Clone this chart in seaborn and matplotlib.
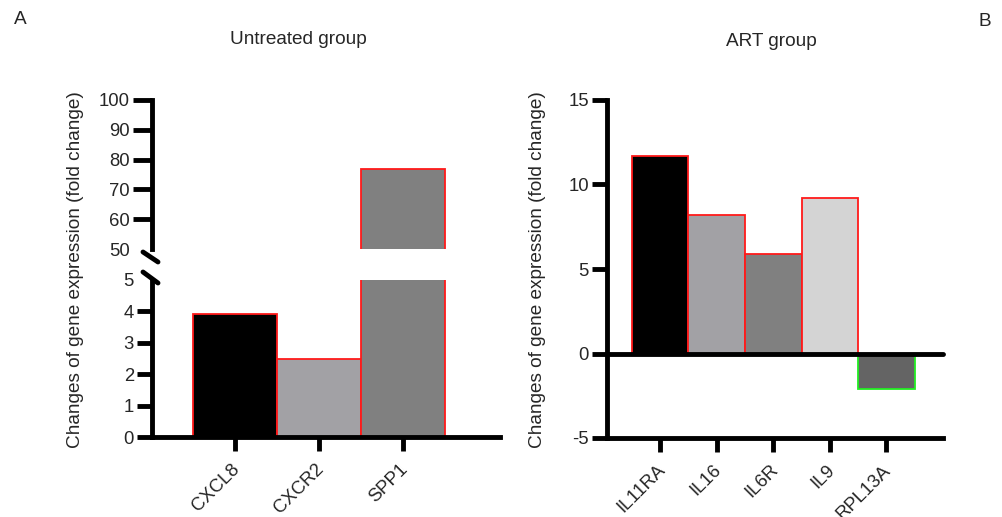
import matplotlib
matplotlib.use("Agg")
import matplotlib.pyplot as plt
import matplotlib.transforms as mtransforms
import seaborn as sns
import pandas as pd

sns.set_style("white")
plt.rcParams['font.family'] = ['Liberation Sans', 'DejaVu Sans']
plt.rcParams['axes.unicode_minus'] = False

# ---- data ----
untreated_genes = ["CXCL8", "CXCR2", "SPP1"]
untreated_vals = [3.92, 2.48, 77.0]
untreated_colors = ["#000000", "#a2a1a5", "#808080"]

art_genes = ["IL11RA", "IL16", "IL6R", "IL9", "RPL13A"]
art_vals = [11.7, 8.2, 5.9, 9.2, -2.1]
art_colors = ["#000000", "#a2a1a5", "#808080", "#d4d4d4", "#646464"]
art_edges = ["#ff1a1a", "#ff1a1a", "#ff1a1a", "#ff1a1a", "#22ee22"]

ylabel = "Changes of gene expression (fold change)"
W, H = 1003, 517
fig = plt.figure(figsize=(W / 100, H / 100), dpi=100)

def fx(px):
    return px / W

def fy(py):
    return 1 - py / H

SP = 3.5   # spine width
FS = 13.7  # label font
TFS = 13.3  # tick font
EW = 1.3   # bar edge width

def style(ax, ylen=11):
    for s in ax.spines.values():
        s.set_linewidth(SP)
        s.set_color("black")
    ax.tick_params(axis="y", direction="out", length=ylen, width=SP, color="black",
                   labelsize=TFS, pad=2, left=True)
    ax.tick_params(axis="x", direction="out", length=10, width=SP, color="black",
                   labelsize=TFS, pad=7, bottom=True)

def rot_labels(ax, labels):
    ax.set_xticks(range(len(labels)))
    ax.set_xticklabels(labels, rotation=45, ha="right", va="top", rotation_mode="anchor")
    off = mtransforms.ScaledTranslation(-4 / 100, 0, fig.dpi_scale_trans)
    for t in ax.get_xticklabels():
        t.set_transform(t.get_transform() + off)

# ---- left panel (broken axis) ----
L, R = 152, 500
ax_top = fig.add_axes([fx(L), fy(249), fx(R - L), (249 - 100) / H])
ax_bot = fig.add_axes([fx(L), fy(437), fx(R - L), (437 - 280) / H])

df_u = pd.DataFrame({"gene": untreated_genes, "val": untreated_vals})
for ax in (ax_top, ax_bot):
    sns.barplot(data=df_u, x="gene", y="val", hue="gene", palette=untreated_colors,
                width=1.0, edgecolor="#ff1a1a", linewidth=EW, legend=False, ax=ax)
    ax.set_xlim(-0.99, 3.15)
    ax.set_xlabel("")
    ax.set_ylabel("")
    for s in ("top", "right"):
        ax.spines[s].set_visible(False)

style(ax_top, ylen=14)
style(ax_bot, ylen=11)

ax_top.set_ylim(50, 100)
ax_top.set_yticks([50, 60, 70, 80, 90, 100])
ax_top.spines["bottom"].set_visible(False)
ax_top.tick_params(axis="x", bottom=False, labelbottom=False)
ax_top.yaxis.get_major_ticks()[0].tick1line.set_visible(False)

ax_bot.set_ylim(0, 5)
ax_bot.set_yticks([0, 1, 2, 3, 4, 5])
ax_bot.yaxis.get_major_ticks()[-1].tick1line.set_visible(False)
rot_labels(ax_bot, untreated_genes)

# break marks
fig.add_artist(plt.Line2D([fx(143), fx(158)], [fy(252), fy(262)], color="black", lw=SP))
fig.add_artist(plt.Line2D([fx(143), fx(158)], [fy(272), fy(283)], color="black", lw=SP))

# ---- right panel ----
axr = fig.add_axes([fx(607), fy(438), fx(943 - 607), (438 - 100) / H])
df_a = pd.DataFrame({"gene": art_genes, "val": art_vals})
sns.barplot(data=df_a, x="gene", y="val", hue="gene", palette=art_colors,
            width=1.0, edgecolor="#ff1a1a", linewidth=EW, legend=False, ax=axr)
for p, ec in zip(axr.patches, art_edges):
    p.set_edgecolor(ec)
axr.set_xlim(-0.94, 5.0)
axr.set_ylim(-5, 15)
axr.set_yticks([-5, 0, 5, 10, 15])
axr.set_xlabel("")
axr.set_ylabel("")
style(axr, ylen=11)
for s in ("top", "right"):
    axr.spines[s].set_visible(False)
axr.axhline(0, color="black", lw=SP, zorder=5, clip_on=False)
rot_labels(axr, art_genes)

# ---- texts ----
fig.text(fx(76), fy(270), ylabel, rotation=90, ha="center", va="center", fontsize=FS)
fig.text(fx(538), fy(270), ylabel, rotation=90, ha="center", va="center", fontsize=FS)
fig.text(fx(298), fy(40), "Untreated group", ha="center", va="center", fontsize=FS)
fig.text(fx(771), fy(41), "ART group", ha="center", va="center", fontsize=FS)
fig.text(fx(20), fy(20), "A", ha="center", va="center", fontsize=FS)
fig.text(fx(985), fy(22), "B", ha="center", va="center", fontsize=FS)

fig.savefig("out.png", dpi=100)
